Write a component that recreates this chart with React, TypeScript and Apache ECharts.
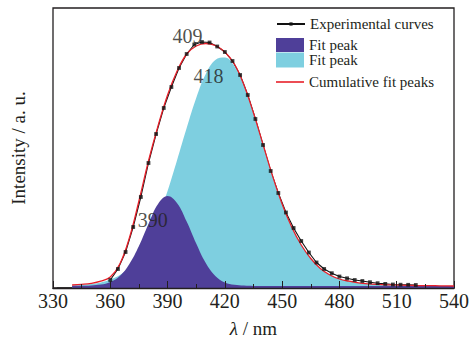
import React, { useEffect, useRef } from 'react';
import * as echarts from 'echarts';

// Experimental spectrum (4 nm steps)
const expWavelength = [332, 336, 340, 344, 348, 352, 356, 360, 364, 368, 372, 376, 380, 384, 388, 392, 396, 400, 404, 408, 412, 416, 420, 424, 428, 432, 436, 440, 444, 448, 452, 456, 460, 464, 468, 472, 476, 480, 484, 488, 492, 496, 500, 504, 508, 512, 516, 520];
const expIntensity = [0, 0, 0, 0.5, 1, 2, 3.5, 8, 19, 36, 61, 91, 125, 154, 180, 201, 220, 234, 243.5, 246, 245.5, 241.5, 236, 227, 213, 193, 169, 143, 117, 95, 75.5, 60, 47, 35.5, 25.5, 19, 14.8, 11.5, 9.7, 8, 7, 5.8, 4.8, 4.1, 3.5, 3.3, 3.2, 3];

// Fitted curves (5 nm steps)
const fitWavelength = [340, 345, 350, 355, 360, 365, 370, 375, 380, 385, 390, 395, 400, 405, 410, 415, 420, 425, 430, 435, 440, 445, 450, 455, 460, 465, 470, 475, 480, 485, 490, 495, 500, 505, 510, 515, 520, 525, 530, 535, 540];
const fitPeak390 = [2.1, 2.2, 2.6, 3.4, 6, 12, 24, 42, 64, 84, 92, 84.8, 66.5, 44.5, 25, 12, 5.5, 3.2, 2.4, 2.1, 2, 2, 2, 2, 2, 2, 2, 2, 2, 2, 2, 2, 2, 2, 2, 2, 2, 2, 2, 2, 2];
const fitPeak418 = [2.5, 3.0, 3.9, 5.5, 8.5, 13, 20.5, 32, 48, 70, 97, 128, 160, 190, 214, 228, 230.5, 222, 202, 175, 143, 112, 84, 61, 43, 29.5, 19.5, 13, 9, 6.8, 5.2, 4.2, 3.6, 3.2, 2.9, 2.7, 2.5, 2.4, 2.3, 2.1, 2.0];
const cumulativeFit = [3, 3.6, 4.6, 6.8, 11, 24, 50, 87, 127, 162, 193, 217, 234, 242, 244.5, 242.5, 236, 224, 203, 175, 143.5, 112, 84, 61, 43, 29.5, 19.5, 13, 9, 6.8, 5.2, 4.2, 3.6, 3.2, 2.9, 2.7, 2.5, 2.4, 2.3, 2.1, 2.0];

// Peak annotations (label centre in data coordinates)
const peakLabelText = ['409', '418', '390'];
const peakLabelX = [400.5, 411.4, 382.2];
const peakLabelY = [252, 211.8, 67.8];

const xMin = 330;
const xMax = 540;
const xInterval = 30;
const yMax = 280;

const FONT = '"Liberation Serif", "Times New Roman", serif';
const INK = '#231f20';
const PURPLE = '#4f3f99';
const CYAN = '#7ecfe0';
const RED = '#e8202a';

const zip = (xs: number[], ys: number[]) => xs.map((x, i) => [x, ys[i]]);

export default function App() {
  const ref = useRef<HTMLDivElement>(null);
  useEffect(() => {
    if (!ref.current) return;
    const chart = echarts.init(ref.current, undefined, { renderer: 'svg' });
    const legendText = { fontFamily: FONT, fontSize: 15, color: INK, lineHeight: 16 };
    const legendBase = {
      orient: 'vertical' as const,
      left: 276,
      padding: 0,
      itemWidth: 28,
      textStyle: legendText,
      selectedMode: false,
      formatter: (n: string) => (n.indexOf('Fit peak') === 0 ? 'Fit peak' : n),
    };
    const option: any = {
      animation: false,
      backgroundColor: '#ffffff',
      grid: {
        left: 53,
        right: 16,
        top: 8,
        bottom: 57,
        show: true,
        borderColor: INK,
        borderWidth: 1.3,
        backgroundColor: 'transparent',
      },
      legend: [
        { ...legendBase, top: 16, itemHeight: 4, data: ['Experimental curves'] },
        { ...legendBase, top: 37, itemHeight: 14, data: [{ name: 'Fit peak 1', icon: 'rect' }] },
        { ...legendBase, top: 52, itemHeight: 15, data: [{ name: 'Fit peak 2', icon: 'rect' }] },
        { ...legendBase, top: 74, itemHeight: 1.6, data: [{ name: 'Cumulative fit peaks', icon: 'rect' }] },
      ],
      xAxis: {
        type: 'value',
        min: xMin,
        max: xMax,
        interval: xInterval,
        z: 10,
        name: '{i|λ} / nm',
        nameLocation: 'middle',
        nameGap: 31,
        nameTextStyle: {
          fontFamily: FONT,
          fontSize: 19,
          color: INK,
          rich: { i: { fontFamily: FONT, fontSize: 19, fontStyle: 'italic', color: INK } },
        },
        axisLine: { show: true, lineStyle: { color: INK, width: 1.3 } },
        axisTick: { show: true, inside: true, length: 7, lineStyle: { color: INK, width: 1 } },
        minorTick: { show: true, splitNumber: 2, length: 4, lineStyle: { color: INK, width: 1 } },
        axisLabel: { fontFamily: FONT, fontSize: 20, color: INK, margin: 3 },
        splitLine: { show: false },
      },
      yAxis: {
        type: 'value',
        min: 0,
        max: yMax,
        name: 'Intensity / a. u.',
        nameLocation: 'middle',
        nameGap: 25,
        nameTextStyle: { fontFamily: FONT, fontSize: 19, color: INK },
        axisLine: { show: false },
        axisTick: { show: false },
        axisLabel: { show: false },
        splitLine: { show: false },
      },
      series: [
        {
          name: 'Experimental curves',
          type: 'line',
          z: 1,
          data: zip(expWavelength, expIntensity),
          symbol: 'rect',
          symbolSize: 4,
          showSymbol: false,
          lineStyle: { color: '#111111', width: 1.1 },
          itemStyle: { color: '#111111' },
        },
        {
          name: 'Fit peak 2',
          type: 'line',
          z: 2,
          data: zip(fitWavelength, fitPeak418),
          smooth: 0.4,
          symbol: 'none',
          lineStyle: { width: 0, color: CYAN },
          itemStyle: { color: CYAN },
          areaStyle: { color: CYAN, opacity: 1 },
        },
        {
          name: 'Fit peak 1',
          type: 'line',
          z: 3,
          data: zip(fitWavelength, fitPeak390),
          smooth: 0.4,
          symbol: 'none',
          lineStyle: { width: 0, color: PURPLE },
          itemStyle: { color: PURPLE },
          areaStyle: { color: PURPLE, opacity: 1 },
        },
        {
          name: 'Cumulative fit peaks',
          type: 'line',
          z: 4,
          data: zip(fitWavelength, cumulativeFit),
          smooth: 0.4,
          symbol: 'none',
          lineStyle: { color: RED, width: 1.3 },
          itemStyle: { color: RED },
        },
        {
          name: 'expMarkers',
          type: 'scatter',
          z: 5,
          data: zip(expWavelength, expIntensity).filter((p) => p[0] >= 360),
          symbol: 'rect',
          symbolSize: 3.8,
          itemStyle: { color: '#111111' },
        },
        {
          name: 'peakLabels',
          type: 'scatter',
          z: 6,
          symbolSize: 0,
          data: peakLabelText.map((t, i) => ({ value: [peakLabelX[i], peakLabelY[i]], name: t })),
          label: {
            show: true,
            position: 'inside',
            formatter: (p: any) => p.name,
            fontFamily: FONT,
            fontSize: 20,
            color: INK,
          },
          silent: true,
        },
      ],
    };
    chart.setOption(option);
    return () => chart.dispose();
  }, []);
  return (
    <div
      ref={ref}
      style={{ position: 'fixed', left: 0, top: 0, width: 472, height: 345, background: '#fff' }}
    />
  );
}
